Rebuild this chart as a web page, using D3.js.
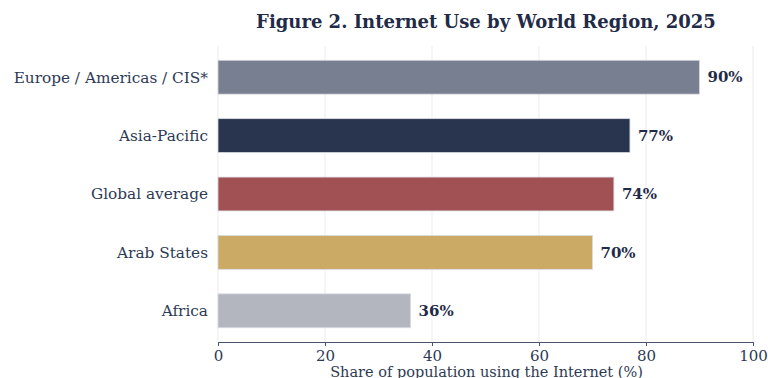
<!DOCTYPE html>
<html>
<head>
<meta charset="utf-8">
<style>
  body { margin: 0; background: #fff; }
  svg text { font-family: "DejaVu Serif", serif; }
</style>
</head>
<body>
<svg id="chart" width="768" height="378"></svg>
<script src="https://cdn.jsdelivr.net/npm/d3@7"></script>
<script>
var regions = ["Europe / Americas / CIS*", "Asia-Pacific", "Global average", "Arab States", "Africa"];
var shares = [90, 77, 74, 70, 36];
var colors = ["#737a8c", "#202c48", "#9d4a4c", "#c9a75f", "#b0b3bc"];
var xTicks = [0, 20, 40, 60, 80, 100];

var svg = d3.select("#chart"),
    margin = {top: 48, right: 15, bottom: 36, left: 218};

var x = d3.scaleLinear().domain([0, 100]).range([0, 535]);
var y = d3.scaleBand().domain(regions).range([0, 292]).paddingInner(0.42).paddingOuter(0.21);

var g = svg.append("g").attr("transform", "translate(" + margin.left + "," + margin.top + ")");

svg.append("text")
  .attr("x", 486).attr("y", 28)
  .attr("text-anchor", "middle")
  .attr("font-size", 18).attr("font-weight", "bold")
  .attr("fill", "#1f2b47")
  .text("Figure 2. Internet Use by World Region, 2025");

// grid
g.selectAll(".grid").data(xTicks).enter().append("line")
  .attr("x1", function(d){ return x(d); }).attr("x2", function(d){ return x(d); })
  .attr("y1", -2).attr("y2", 294)
  .attr("stroke", "#ebebeb").attr("stroke-width", 1);

g.selectAll(".bar").data(regions).enter().append("rect")
  .attr("x", x(0))
  .attr("y", function(d){ return y(d); })
  .attr("width", function(d, i){ return x(shares[i]) - x(0); })
  .attr("height", y.bandwidth())
  .attr("fill", function(d, i){ return colors[i]; })
  .attr("fill-opacity", 0.96)
  .attr("stroke", "#d8dbe2").attr("stroke-width", 0.8);

g.selectAll(".val").data(regions).enter().append("text")
  .attr("x", function(d, i){ return x(shares[i]) + 8; })
  .attr("y", function(d){ return y(d) + y.bandwidth() / 2; })
  .attr("dy", "0.35em")
  .attr("font-size", 15).attr("font-weight", "bold")
  .attr("fill", "#1f2b47")
  .text(function(d, i){ return shares[i] + "%"; });

// y labels
g.selectAll(".ylab").data(regions).enter().append("text")
  .attr("x", -10)
  .attr("y", function(d){ return y(d) + y.bandwidth() / 2; })
  .attr("dy", "0.35em")
  .attr("text-anchor", "end")
  .attr("font-size", 15.3)
  .attr("fill", "#2d3a55")
  .text(function(d){ return d; });

var xAxis = g.append("g")
  .attr("transform", "translate(0,294)")
  .call(d3.axisBottom(x).tickValues(xTicks).tickSize(4).tickPadding(4));
xAxis.select(".domain").attr("stroke", "#4a5468");
xAxis.selectAll(".tick line").attr("stroke", "#4a5468");
xAxis.selectAll(".tick text")
  .attr("font-family", "DejaVu Serif").attr("font-size", 15).attr("fill", "#2d3a55");

svg.append("text")
  .attr("x", margin.left + x(50) + 1).attr("y", 377)
  .attr("text-anchor", "middle")
  .attr("font-size", 14.5)
  .attr("fill", "#2d3a55")
  .text("Share of population using the Internet (%)");
</script>
</body>
</html>
